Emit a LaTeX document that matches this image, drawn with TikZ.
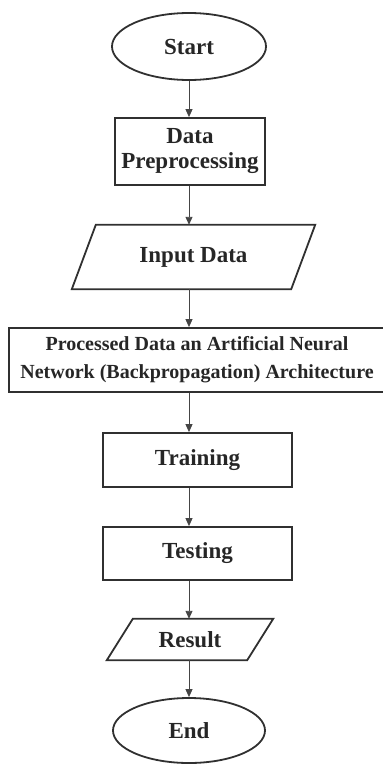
\documentclass[tikz,border=0pt]{standalone}
\usepackage{fontspec}
\setmainfont{Liberation Serif}
\usetikzlibrary{shapes.geometric,arrows.meta}
\definecolor{ink}{HTML}{262626}
\definecolor{edge}{HTML}{303030}
\begin{document}
\begin{tikzpicture}[x=1bp,y=-1bp,
  txt/.style={inner sep=0pt,text=ink,align=center,font=\bfseries\fontsize{23bp}{25bp}\selectfont},
  box/.style={txt,draw=edge,line width=1.8bp},
  term/.style={box,ellipse},
  io/.style={txt},
  para/.style={draw=edge,line width=1.8bp,line join=miter},
  arr/.style={draw=edge!90,line width=0.9bp,-{Triangle[length=8bp,width=7bp]}}]
\useasboundingbox (0,0) rectangle (382,764);
\node[term,minimum width=154bp,minimum height=67bp] (start) at (189,46.5) {Start};
\node[box,minimum width=150bp,minimum height=67bp] (prep) at (190,151.5) {Data\\Preprocessing};
\node[io,minimum width=219bp,minimum height=64bp] (inp) at (193.5,257) {Input Data};
\draw[para] ([xshift=12bp]inp.north west) -- ([xshift=12bp]inp.north east) -- ([xshift=-12bp]inp.south east) -- ([xshift=-12bp]inp.south west) -- cycle;
\node[box,minimum width=376bp,minimum height=64bp,font=\bfseries\fontsize{20bp}{28bp}\selectfont] (ann) at (197,360) {Processed Data an Artificial Neural\\Network (Backpropagation) Architecture};
\node[box,minimum width=189bp,minimum height=54bp] (train) at (197.5,460) {Training};
\node[box,minimum width=189bp,minimum height=53bp] (test) at (197.5,553.5) {Testing};
\node[io,minimum width=140bp,minimum height=41bp] (res) at (190,639.5) {Result};
\draw[para] ([xshift=13bp]res.north west) -- ([xshift=13bp]res.north east) -- ([xshift=-13bp]res.south east) -- ([xshift=-13bp]res.south west) -- cycle;
\node[term,minimum width=152bp,minimum height=65bp] (end) at (189,730.5) {End};
\draw[arr] (start.south) -- (start.south |- prep.north);
\draw[arr] (start.south |- prep.south) -- (start.south |- inp.north);
\draw[arr] (start.south |- inp.south) -- (start.south |- ann.north);
\draw[arr] (start.south |- ann.south) -- (start.south |- train.north);
\draw[arr] (start.south |- train.south) -- (start.south |- test.north);
\draw[arr] (start.south |- test.south) -- (start.south |- res.north);
\draw[arr] (start.south |- res.south) -- (end.north);
\end{tikzpicture}
\end{document}
